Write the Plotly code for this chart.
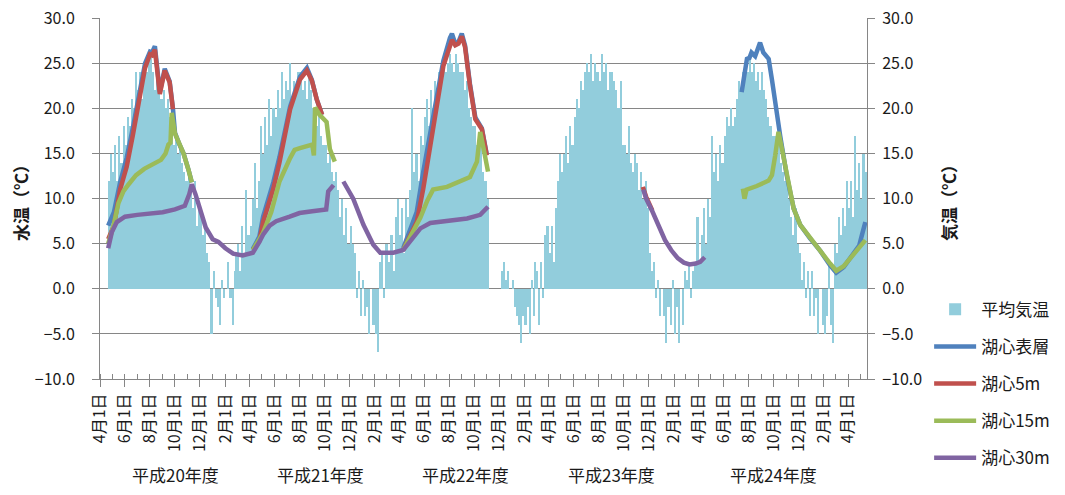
import calendar
from datetime import datetime, timedelta
import plotly.graph_objects as go

# ---------------- data ----------------
# daily-mean air temperature per pentad (6 per month, Apr..Mar)
air_h20 = [None, None, None, None, 12, 15,
           13, 16, 12, 17, 14, 18,
           16, 19, 18, 21, 20, 24,
           22, 24, 21, 25, 24, 26,
           26, 24, 22, 25, 23, 21,
           22, 20, 21, 19, 18, 16,
           17, 15, 16, 14, 13, 12,
           13, 11, 9, 12, 7, 9,
           8, 6, 7, 4, 3, -5,
           2, -1, -2, -4, 1, -1,
           0, 3, -1, -4, 2, 4,
           5, 2, 7, 4, 11, 6]
air_h21 = [7, 10, 14, 9, 12, 18,
           15, 19, 16, 21, 17, 20,
           19, 22, 20, 24, 21, 23,
           22, 25, 21, 23, 22, 24,
           24, 22, 23, 21, 24, 22,
           20, 19, 18, 20, 17, 16,
           16, 14, 15, 13, 12, 13,
           11, 8, 10, 6, 9, 5,
           7, 5, 4, -1, 2, -3,
           1, -3, -2, -5, 0, -4,
           -5, -7, 3, 4, -1, 5,
           5, 3, 6, 2, 8, 10]
air_h22 = [6, 9, 4, 10, 8, 11,
           20, 13, 15, 12, 17, 16,
           19, 21, 18, 22, 20, 23,
           22, 24, 23, 25, 24, 25,
           26, 25, 24, 26, 25, 24,
           24, 22, 23, 20, 19, 18,
           18, 16, 15, 17, 13, 12,
           10, None, None, None, None, None,
           None, 2, 3, 1, 2, 0,
           1, -2, -3, -4, -6, -3,
           -4, -2, -5, 1, -3, 3,
           2, -4, 3, -1, 6, 7]
air_h23 = [4, 7, 3, 9, 12, 15,
           13, 15, 17, 14, 18, 16,
           19, 21, 20, 23, 22, 24,
           25, 24, 26, 23, 25, 24,
           23, 26, 24, 25, 22, 24,
           24, 23, 22, 20, 23, 16,
           16, 15, 18, 14, 13, 15,
           14, 11, 13, 10, 12, 9,
           4, 2, 3, -1, 1, -3,
           0, -3, -6, -2, -4, 1,
           -5, -2, -6, 0, -4, 2,
           1, 3, -1, 2, 3, 8]
air_h24 = [3, 6, 9, 5, 10, 8,
           17, 13, 15, 12, 16, 14,
           17, 19, 18, 20, 18, 19,
           21, 23, 22, 24, 25, 24,
           26, 24, 25, 23, 24, 22,
           24, 22, 21, 19, 18, 17,
           17, 15, 16, 14, 13, 12,
           13, 10, 8, 6, 9, 5,
           4, 1, 3, -1, 2, -3,
           2, -3, -1, -5, 0, -4,
           -5, -3, 3, -4, -6, 5,
           4, 8, 6, 9, 7, 12]
air_h25 = [9, 12, 8, 17, 11, 14,
           10, 15, 13, 16]

# lake-centre water temperature (None = no measurement)
surface_dates = ['2008-04-21', '2008-05-05', '2008-05-20', '2008-06-05', '2008-06-20', '2008-07-05',
                 '2008-07-20', '2008-08-01', '2008-08-06', '2008-08-13', '2008-08-25', '2008-09-06',
                 '2008-09-18', '2008-09-26', '2008-10-01', '2008-10-12', '2008-10-22', '2008-11-03',
                 '2008-11-11', '2009-01-01',
                 '2009-04-09', '2009-04-25', '2009-05-04', '2009-05-24', '2009-05-29', '2009-06-13',
                 '2009-06-22', '2009-07-09', '2009-08-02', '2009-08-19', '2009-08-31', '2009-09-12',
                 '2009-09-25', '2009-12-01',
                 '2010-04-11', '2010-04-28', '2010-05-14', '2010-05-30', '2010-06-16', '2010-07-02',
                 '2010-07-18', '2010-08-03', '2010-08-08', '2010-08-16', '2010-08-24', '2010-09-01',
                 '2010-09-09', '2010-09-21', '2010-10-04', '2010-10-20', '2010-11-01', '2011-06-01',
                 '2012-07-15', '2012-07-20', '2012-07-28', '2012-08-03', '2012-08-08', '2012-08-17',
                 '2012-08-29', '2012-09-06', '2012-09-19', '2012-09-27', '2012-10-09', '2012-10-17',
                 '2012-10-25', '2012-11-02', '2012-11-19', '2012-12-05', '2012-12-29', '2013-01-23',
                 '2013-02-16', '2013-03-03', '2013-03-21', '2013-04-14', '2013-04-28', '2013-05-06',
                 '2013-05-13']
surface_vals = [7.0, 8.5, 11.8, 14.5, 17.8, 21.2,
                25.0, 26.3, 26.2, 26.9, 21.8, 24.4,
                23.0, 20.0, 17.3, 16.0, 15.0, 13.2,
                11.8, None,
                4.4, 5.8, 8.0, 10.8, 11.8, 14.6,
                16.4, 20.2, 23.5, 24.5, 23.2, 21.0,
                19.3, None,
                4.5, 6.5, 8.5, 13.0, 17.5, 21.5,
                25.3, 27.8, 28.3, 27.2, 27.4, 28.3,
                27.0, 22.7, 19.0, 17.8, 14.9, None,
                21.8, 23.5, 25.5, 25.6, 26.2, 25.8,
                27.3, 26.2, 25.5, 23.2, 19.2, 17.0,
                14.8, 12.6, 8.9, 7.1, 5.6, 4.2,
                2.6, 1.8, 2.4, 3.8, 4.8, 6.2,
                7.4]

m5_dates = ['2008-04-21', '2008-05-05', '2008-05-20', '2008-06-05', '2008-06-20', '2008-07-05',
            '2008-07-20', '2008-08-01', '2008-08-06', '2008-08-13', '2008-08-25', '2008-09-06',
            '2008-09-18', '2008-09-26', '2009-01-01',
            '2009-04-09', '2009-04-25', '2009-05-04', '2009-05-24', '2009-05-29', '2009-06-13',
            '2009-06-22', '2009-07-09', '2009-08-02', '2009-08-19', '2009-08-31', '2009-09-12',
            '2009-09-25', '2009-12-01',
            '2010-04-11', '2010-04-28', '2010-05-14', '2010-05-30', '2010-06-16', '2010-07-02',
            '2010-07-18', '2010-08-03', '2010-08-08', '2010-08-16', '2010-08-24', '2010-09-01',
            '2010-09-09', '2010-09-21', '2010-10-04', '2010-10-20', '2010-11-01', '2011-06-01',
            '2011-11-17', '2011-11-25', '2011-12-10']
m5_vals = [5.5, 7.0, 11.0, 13.5, 17.0, 20.5,
           24.5, 26.0, 25.9, 26.5, 21.6, 24.2,
           22.9, 19.9, None,
           4.3, 5.3, 7.4, 10.1, 11.1, 14.0,
           15.9, 19.9, 23.2, 24.2, 23.1, 21.0,
           19.3, None,
           4.3, 6.0, 7.4, 11.1, 15.6, 20.1,
           24.7, 26.9, 27.6, 27.0, 27.2, 28.0,
           26.8, 22.5, 18.8, 17.7, 14.8, None,
           11.3, 10.2, 8.7]

m15_dates = ['2008-04-21', '2008-05-03', '2008-05-16', '2008-05-28', '2008-06-10', '2008-06-28',
             '2008-07-18', '2008-08-08', '2008-08-28', '2008-09-08', '2008-09-15', '2008-09-20',
             '2008-09-23', '2008-10-01', '2008-10-12', '2008-10-22', '2008-11-03', '2008-11-11',
             '2009-01-01',
             '2009-04-09', '2009-05-04', '2009-05-24', '2009-06-13', '2009-07-09', '2009-07-20',
             '2009-08-02', '2009-08-20', '2009-09-01', '2009-09-05', '2009-09-08', '2009-09-19',
             '2009-10-06', '2009-10-14', '2009-10-26', '2009-12-01',
             '2010-04-11', '2010-05-14', '2010-05-23', '2010-06-09', '2010-06-23', '2010-07-27',
             '2010-08-28', '2010-09-21', '2010-10-08', '2010-10-16', '2010-10-24', '2010-11-04',
             '2011-06-01',
             '2012-07-18', '2012-07-22', '2012-07-27', '2012-08-21', '2012-09-19', '2012-09-27',
             '2012-10-05', '2012-10-13', '2012-10-21', '2012-11-02', '2012-11-19', '2012-12-05',
             '2012-12-29', '2013-01-23', '2013-02-16', '2013-03-03', '2013-03-21', '2013-04-14',
             '2013-05-04', '2013-05-13']
m15_vals = [5.0, 6.8, 9.5, 10.8, 11.6, 12.6,
            13.3, 13.8, 14.3, 15.0, 16.0, 16.2,
            19.5, 17.2, 16.0, 15.0, 13.2, 11.8,
            None,
            4.3, 6.2, 8.5, 11.9, 14.5, 15.4,
            15.6, 15.9, 16.0, 14.8, 20.1, 19.3,
            18.5, 15.5, 14.1, None,
            4.3, 7.0, 7.9, 9.8, 11.0, 11.3,
            11.9, 12.4, 14.1, 17.4, 15.6, 13.0,
            None,
            11.1, 10.0, 11.0, 11.4, 12.0, 12.6,
            14.8, 17.4, 15.6, 13.0, 8.9, 7.1,
            5.6, 4.2, 2.8, 2.0, 2.5, 3.8,
            4.8, 5.4]

m30_dates = ['2008-04-21', '2008-04-30', '2008-05-12', '2008-06-01', '2008-07-01', '2008-08-01',
             '2008-09-01', '2008-10-01', '2008-10-25', '2008-11-05', '2008-11-11', '2008-11-20',
             '2008-12-01', '2008-12-15', '2009-01-01', '2009-01-15', '2009-02-01', '2009-02-20',
             '2009-03-15', '2009-04-09', '2009-04-25', '2009-05-04', '2009-05-20', '2009-06-05',
             '2009-07-08', '2009-08-01', '2009-09-01', '2009-10-05', '2009-10-10', '2009-10-23',
             '2009-11-05',
             '2009-11-16', '2009-12-10', '2010-01-04', '2010-01-28', '2010-02-14', '2010-03-18',
             '2010-04-11', '2010-04-28', '2010-05-23', '2010-06-16', '2010-07-27', '2010-09-14',
             '2010-10-16', '2010-11-04', '2011-06-01',
             '2011-11-18', '2011-11-25', '2011-12-10', '2011-12-25', '2012-01-10', '2012-01-25',
             '2012-02-10', '2012-02-25', '2012-03-10', '2012-03-25', '2012-04-05', '2012-04-16']
m30_vals = [4.5, 6.3, 7.4, 8.0, 8.2, 8.3,
            8.5, 8.8, 9.2, 10.5, 11.6, 10.5,
            8.7, 6.8, 5.5, 5.2, 4.5, 3.9,
            3.7, 4.0, 5.2, 6.0, 7.0, 7.5,
            8.0, 8.4, 8.6, 8.8, 10.8, 11.5,
            None,
            11.9, 10.0, 7.1, 4.9, 4.0, 4.0,
            4.3, 5.3, 6.7, 7.3, 7.5, 7.8,
            8.2, 9.1, None,
            11.0, 10.0, 8.6, 7.0, 5.4, 4.3,
            3.4, 2.9, 2.7, 2.8, 3.0, 3.5]

series_names = ['平均気温', '湖心表層', '湖心5m', '湖心15m', '湖心30m']
tick_labels = ['4月1日', '6月1日', '8月1日', '10月1日', '12月1日', '2月1日',
               '4月1日', '6月1日', '8月1日', '10月1日', '12月1日', '2月1日',
               '4月1日', '6月1日', '8月1日', '10月1日', '12月1日', '2月1日',
               '4月1日', '6月1日', '8月1日', '10月1日', '12月1日', '2月1日',
               '4月1日', '6月1日', '8月1日', '10月1日', '12月1日', '2月1日',
               '4月1日']
fy_labels = ['平成20年度', '平成21年度', '平成22年度', '平成23年度', '平成24年度']

# ---------------- layout helpers ----------------
fy_label_pos = ['2008-10-03', '2009-09-22', '2010-09-10', '2011-09-02', '2012-10-01']


def pentads(n, year=2008, month=4):
    out = []
    y, m = year, month
    while len(out) < n:
        last = calendar.monthrange(y, m)[1]
        for s, e in [(1, 5), (6, 10), (11, 15), (16, 20), (21, 25), (26, last)]:
            start = datetime(y, m, s)
            end = datetime(y, m, e) + timedelta(days=1)
            out.append((start + (end - start) / 2, (end - start).total_seconds() * 1000))
        m += 1
        if m > 12:
            m, y = 1, y + 1
    return out[:n]


air_all = air_h20 + air_h21 + air_h22 + air_h23 + air_h24 + air_h25
pd_ = pentads(len(air_all))
air_x = [p[0] for p in pd_]
air_w = [p[1] for p in pd_]

tick_dates = []
y, m = 2008, 4
for _ in tick_labels:
    tick_dates.append(datetime(y, m, 1))
    m += 2
    if m > 12:
        m, y = m - 12, y + 1

GRID = '#868686'
FONT = 'Noto Sans CJK JP'
TXT = '#1a1a1a'

fig = go.Figure()
fig.add_trace(go.Bar(x=air_x, y=air_all, width=air_w, name=series_names[0],
                     marker=dict(color='#92CDDC', line=dict(width=0)),
                     yaxis='y', legendgroup='g0'))
line_specs = [(surface_dates, surface_vals, '#4F81BD'),
              (m5_dates, m5_vals, '#C0504D'),
              (m15_dates, m15_vals, '#9BBB59'),
              (m30_dates, m30_vals, '#8064A2')]
for i, (d, v, c) in enumerate(line_specs):
    fig.add_trace(go.Scatter(x=d, y=v, mode='lines', name=series_names[i + 1],
                             line=dict(color=c, width=4.5), connectgaps=False,
                             yaxis='y2', legendgroup='g%d' % (i + 1)))

for lab, pos in zip(fy_labels, fy_label_pos):
    fig.add_annotation(x=pos, xref='x', y=-0.2657, yref='paper', text=lab,
                       showarrow=False, font=dict(family=FONT, size=17, color=TXT),
                       xanchor='center', yanchor='middle')

axis_common = dict(range=[-10, 30.03], dtick=5, tick0=0, tickformat='.1f',
                   showline=True, linecolor=GRID, linewidth=1, zeroline=False,
                   ticks='outside', ticklen=7, tickcolor=GRID, automargin=False,
                   ticklabeloverflow='allow',
                   tickfont=dict(family=FONT, size=16, color=TXT))

# page adds an 8px body margin, so the figure is sized to fit inside the window
fig.update_layout(
    width=1049, height=479,
    margin=dict(l=92, r=190, t=10, b=108, autoexpand=False),
    paper_bgcolor='white', plot_bgcolor='white',
    font=dict(family=FONT, size=17, color=TXT),
    bargap=0,
    showlegend=True,
    legend=dict(x=1.081, y=0.2416, xanchor='left', yanchor='top',
                font=dict(family=FONT, size=17, color=TXT),
                tracegroupgap=12, itemwidth=42, bgcolor='rgba(0,0,0,0)'),
    xaxis=dict(type='date', range=['2008-04-01', '2013-05-17'],
               tickmode='array', tickvals=tick_dates, ticktext=tick_labels,
               tickangle=-90, ticks='outside', ticklen=7, tickcolor=GRID,
               showline=True, linecolor=GRID, showgrid=False, zeroline=False,
               automargin=False,
               tickfont=dict(family=FONT, size=16, color=TXT),
               minor=dict(dtick='M1', tick0='2008-04-01', ticks='inside', ticklen=5,
                          tickcolor=GRID, showgrid=False)),
    yaxis=dict(side='right', showgrid=True, gridcolor=GRID, gridwidth=1,
               ticklabelstandoff=4,
               title=dict(text='気温（℃）', standoff=22,
                          font=dict(family=FONT, size=17, color=TXT, weight='bold')),
               **axis_common),
    yaxis2=dict(side='left', overlaying='y', showgrid=False,
                ticklabelstandoff=14,
                title=dict(text='水温（℃）', standoff=6,
                           font=dict(family=FONT, size=17, color=TXT, weight='bold')),
                **axis_common),
)

fig.write_html('out.html')
